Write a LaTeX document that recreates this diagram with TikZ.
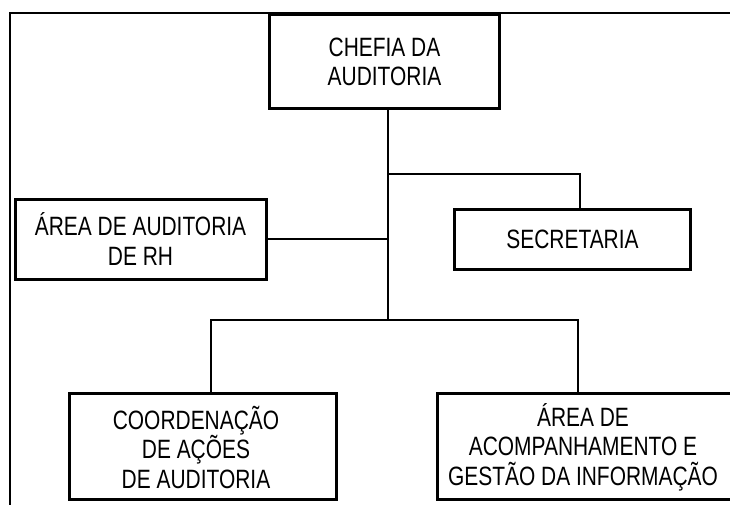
\documentclass[tikz,border=0pt]{standalone}
\usepackage{fontspec}
\setmainfont{Liberation Sans}[FakeStretch=0.79]
\begin{document}
\begin{tikzpicture}[x=1pt,y=-1pt,
  box/.style={draw, line width=3pt, inner sep=0pt, align=center},
  lbl/.style={inner sep=0pt, align=center},
  conn/.style={line width=2pt},
  frame/.style={line width=2pt}]
\clip (0,0) rectangle (730,505);
\fill[white] (0,0) rectangle (730,505);
\fontsize{26.5}{29.5}\selectfont
% outer frame (cut off at right and bottom)
\draw[frame] (740,13) -- (10,13) -- (10,515);
% boxes
\node[box, minimum width=230pt, minimum height=94pt] (chefia) at (384.5,62) {CHEFIA DA\\AUDITORIA};
\node[box, minimum width=251pt, minimum height=80pt] (rh) at (140.5,239) {ÁREA DE AUDITORIA\\DE RH};
\node[box, minimum width=236pt, minimum height=60pt] (sec) at (572.5,239.5) {SECRETARIA};
\node[box, minimum width=267pt, minimum height=106pt] (coord) at (203,446.5) {};
\node[lbl] (coordtxt) at (196,447) {COORDENAÇÃO\\DE AÇÕES\\DE AUDITORIA};
\node[box, minimum width=302pt, minimum height=106pt] (area) at (588.5,446.5) {};
\node[lbl] (areatxt) at (583,447) {ÁREA DE\\ACOMPANHAMENTO E\\GESTÃO DA INFORMAÇÃO};
% junction coordinates
\coordinate (j1) at (388,174);
\coordinate (j3) at (388,320);
\coordinate (sectop) at (580,209.5);
\coordinate (ct) at (211,393.5);
\coordinate (at) at (578,393.5);
% connectors
\draw[conn] (chefia.south -| j1) -- (j3);
\draw[conn] (j1) -| (sectop);
\draw[conn] (rh.east) -- (rh.east -| j1);
\draw[conn] (ct) |- (j3) -| (at);
\end{tikzpicture}
\end{document}
